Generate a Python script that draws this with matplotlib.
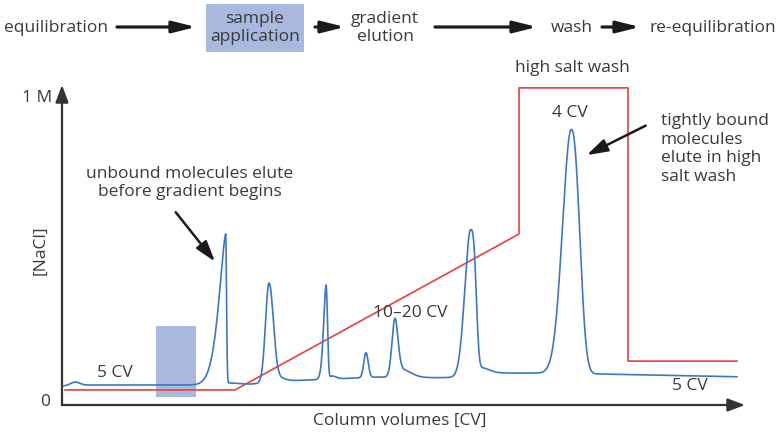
import numpy as np
import matplotlib
matplotlib.use("Agg")
import matplotlib.pyplot as plt
from matplotlib.patches import Rectangle

plt.rcParams['font.family'] = ['Open Sans', 'DejaVu Sans']

TEXT = '#3a3a3a'
BLUE = '#3b78c2'
RED = '#e8403a'
SHADE = '#a9b8de'

# salt gradient programme: column volume vs [NaCl] (M)
salt_cv = [0.3, 17.3, 45.7, 45.7, 56.6, 56.6, 67.5]
salt_m = [0.049, 0.049, 0.557, 1.033, 1.033, 0.143, 0.143]

# UV trace baseline drift
base_cv = [0.1, 2.1, 13.8, 16.6, 18.8, 22.8, 27.3, 31.5, 37.5, 40.0, 44.0, 48.8, 53.8, 67.5]
base_m = [0.062, 0.065, 0.065, 0.072, 0.068, 0.079, 0.085, 0.091, 0.089, 0.090, 0.104, 0.104,
          0.101, 0.092]

# eluted peaks (and their small tailing shoulders):
# centre, height, left/right widths, left/right shape exponents
peak_cv = [1.3, 16.37, 20.7, 21.7, 26.4, 27.0, 30.4, 33.3, 34.0, 40.87, 41.8, 50.93]
peak_h = [0.011, 0.486, 0.324, 0.012, 0.307, 0.010, 0.081, 0.190, 0.025, 0.478, 0.025, 0.795]
peak_wl = [0.45, 0.62, 0.35, 0.3, 0.23, 0.2, 0.22, 0.30, 0.3, 0.585, 0.3, 0.875]
peak_wr = [0.45, 0.08, 0.44, 0.6, 0.15, 0.4, 0.22, 0.30, 0.9, 0.515, 0.9, 0.81]
peak_pl = [2, 1.5, 2, 2, 1.7, 2, 2, 2, 2, 2, 2, 2]
peak_pr = [2, 2, 2.1, 2, 2.2, 2, 2, 2, 2, 3.1, 2, 2.4]

# sample application zone
load_cv = (9.4, 13.4)
load_m = (0.027, 0.257)

steps = ['equilibration', 'sample\napplication', 'gradient\nelution', 'wash', 're-equilibration']


def peak(x, c, h, wl, wr, pl, pr):
    d = x - c
    w = np.where(d < 0, wl, wr)
    p = np.where(d < 0, pl, pr)
    return h * np.exp(-0.5 * np.abs(d / w) ** p)


x = np.linspace(0.1, 67.5, 6000)
uv = np.interp(x, base_cv, base_m)
for args in zip(peak_cv, peak_h, peak_wl, peak_wr, peak_pl, peak_pr):
    uv = uv + peak(x, *args)

fig = plt.figure(figsize=(7.78, 4.33), dpi=100)
ax = fig.add_axes([62 / 778, 28 / 433, 683 / 778, 320 / 433])
ax.set_xlim(0, 68.3)
ax.set_ylim(0, 320 / 307)
ax.axis('off')

axis_arrow = dict(arrowstyle='-|>,head_length=0.8,head_width=0.3', lw=1.6,
                  color='#333333', shrinkA=0, shrinkB=0, mutation_scale=13)
ax.annotate('', xy=(68.3, 0), xytext=(0, 0), arrowprops=axis_arrow, annotation_clip=False)
ax.annotate('', xy=(0, 320 / 307), xytext=(0, 0), arrowprops=axis_arrow, annotation_clip=False)

ax.add_patch(Rectangle((load_cv[0], load_m[0]), load_cv[1] - load_cv[0],
                       load_m[1] - load_m[0], color=SHADE, lw=0, zorder=1))
ax.plot(salt_cv, salt_m, color=RED, lw=1.2, zorder=2, clip_on=False)
ax.plot(x, uv, color=BLUE, lw=1.2, zorder=3, clip_on=False)

fs = 12.5
ax.text(-1.0, 1.0, '1 M', ha='right', va='center', fontsize=fs, color=TEXT)
ax.text(-1.2, 0.01, '0', ha='right', va='center', fontsize=fs, color=TEXT)
ax.text(-2.2, 0.505, '[NaCl]', rotation=90, ha='center', va='center', fontsize=fs, color=TEXT)
ax.text(33.8, -0.05, 'Column volumes [CV]', ha='center', va='center', fontsize=fs, color=TEXT)

ax.text(5.3, 0.104, '5 CV', ha='center', va='center', fontsize=fs, color=TEXT)
ax.text(34.8, 0.30, '10–20 CV', ha='center', va='center', fontsize=fs, color=TEXT)
ax.text(62.8, 0.062, '5 CV', ha='center', va='center', fontsize=fs, color=TEXT)
ax.text(51.0, 1.098, 'high salt wash', ha='center', va='center', fontsize=fs, color=TEXT)
ax.text(50.8, 0.951, '4 CV', ha='center', va='center', fontsize=fs, color=TEXT)

note_arrow = dict(arrowstyle='-|>,head_length=0.9,head_width=0.28', lw=1.8,
                  color='#1a1a1a', shrinkA=0, shrinkB=0, mutation_scale=14)
ax.text(12.8, 0.723, 'unbound molecules elute\nbefore gradient begins', ha='center',
        va='center', fontsize=fs, color=TEXT, linespacing=1.1)
ax.annotate('', xy=(15.3, 0.467), xytext=(11.37, 0.628), arrowprops=note_arrow)
ax.text(59.9, 0.834, 'tightly bound\nmolecules\nelute in high\nsalt wash', ha='left',
        va='center', fontsize=fs, color=TEXT, linespacing=1.2)
ax.annotate('', xy=(52.47, 0.814), xytext=(58.37, 0.910), arrowprops=note_arrow)

# workflow strip across the top, laid out in pixel units
top = fig.add_axes([0, 0, 1, 1], zorder=-1)
top.set_xlim(0, 778)
top.set_ylim(433, 0)
top.axis('off')
top.patch.set_alpha(0)

top.add_patch(Rectangle((206, 4), 98, 48, color=SHADE, lw=0))
step_x = [56, 255, 385, 572, 650]
step_ha = ['center', 'center', 'center', 'center', 'left']
for s, sx, ha in zip(steps, step_x, step_ha):
    top.text(sx, 28, s, ha=ha, va='center', fontsize=fs, color=TEXT, linespacing=1.15)

flow_arrow = dict(arrowstyle='-|>,head_length=1.0,head_width=0.25', lw=2.3,
                  color='#1a1a1a', shrinkA=0, shrinkB=0, mutation_scale=14)
for x0, x1 in [(117, 196), (315, 345), (435, 537), (602, 640)]:
    top.annotate('', xy=(x1, 27), xytext=(x0, 27), arrowprops=flow_arrow)

fig.savefig('out.png', dpi=100)
